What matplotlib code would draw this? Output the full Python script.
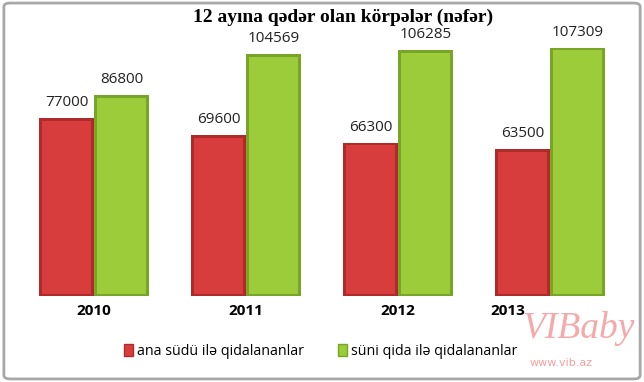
import numpy as np
import matplotlib
matplotlib.use('Agg')
import matplotlib.pyplot as plt
from matplotlib.patches import FancyBboxPatch, Patch

# data
years = ['2010', '2011', '2012', '2013']
breast = [77000, 69600, 66300, 63500]
formula = [86800, 104569, 106285, 107309]
labels = ['ana südü ilə qidalananlar', 'süni qida ilə qidalananlar']
title = '12 ayına qədər olan körpələr (nəfər)'

red, red_dark = '#d83d3d', '#b02a2a'
green, green_dark = '#9ccc3a', '#78a428'

fig = plt.figure(figsize=(6.44, 3.82), dpi=100)
ax = fig.add_axes([0.028, 0.225, 0.944, 0.727])

x = np.arange(len(years))
w = 0.36


def bevel_bars(xs, vals, face, dark):
    # outer darker bar + lighter inset to imitate the bevel look
    ax.bar(xs, vals, width=w, color=dark, linewidth=0)
    inset = [v - 2000 for v in vals]
    ax.bar(xs, inset, width=w * 0.9, bottom=800, color=face, linewidth=0)


bevel_bars(x - w / 2, breast, red, red_dark)
bevel_bars(x + w / 2, formula, green, green_dark)

for xi, v in zip(x - w / 2, breast):
    ax.text(xi, v + 3500, str(v), ha='center', va='bottom',
            fontsize=11, family='Open Sans', color='#222222')
for xi, v in zip(x + w / 2, formula):
    ax.text(xi, v + 3500, str(v), ha='center', va='bottom',
            fontsize=11, family='Open Sans', color='#222222')

ax.set_xlim(-0.5, 3.5)
ax.set_ylim(0, 120000)
ax.set_xticks([0, 1, 2, 2.72])
ax.set_xticklabels(years, fontsize=11, fontweight='bold', family='Open Sans')
ax.tick_params(axis='x', length=0, pad=6)
ax.set_yticks([])
for s in ax.spines.values():
    s.set_visible(False)

fig.text(0.532, 0.955, title, ha='center', va='center', fontsize=14,
         fontweight='bold', family='Liberation Serif')

handles = [Patch(facecolor=red, edgecolor=red_dark),
           Patch(facecolor=green, edgecolor=green_dark)]
fig.legend(handles, labels, loc='center', bbox_to_anchor=(0.498, 0.079),
           ncol=2, frameon=False, handlelength=0.6,
           handleheight=0.9, handletextpad=0.3, columnspacing=2.4,
           prop={'family': 'Open Sans', 'size': 10.3})

# watermark
fig.text(0.898, 0.14, 'VIBaby', ha='center', va='center', fontsize=27,
         style='italic', family='Liberation Serif', color='#f4a0a0',
         alpha=0.9)
fig.text(0.872, 0.05, 'www.vib.az', ha='center', va='center', fontsize=8,
         family='DejaVu Sans', color='#f4a0a0')

frame = FancyBboxPatch((0.006, 0.008), 0.988, 0.984,
                       boxstyle='round,pad=0,rounding_size=0.01',
                       transform=fig.transFigure, facecolor='none',
                       edgecolor='#a8a8a8', linewidth=2)
fig.patches.append(frame)

fig.savefig('out.png', dpi=100)
